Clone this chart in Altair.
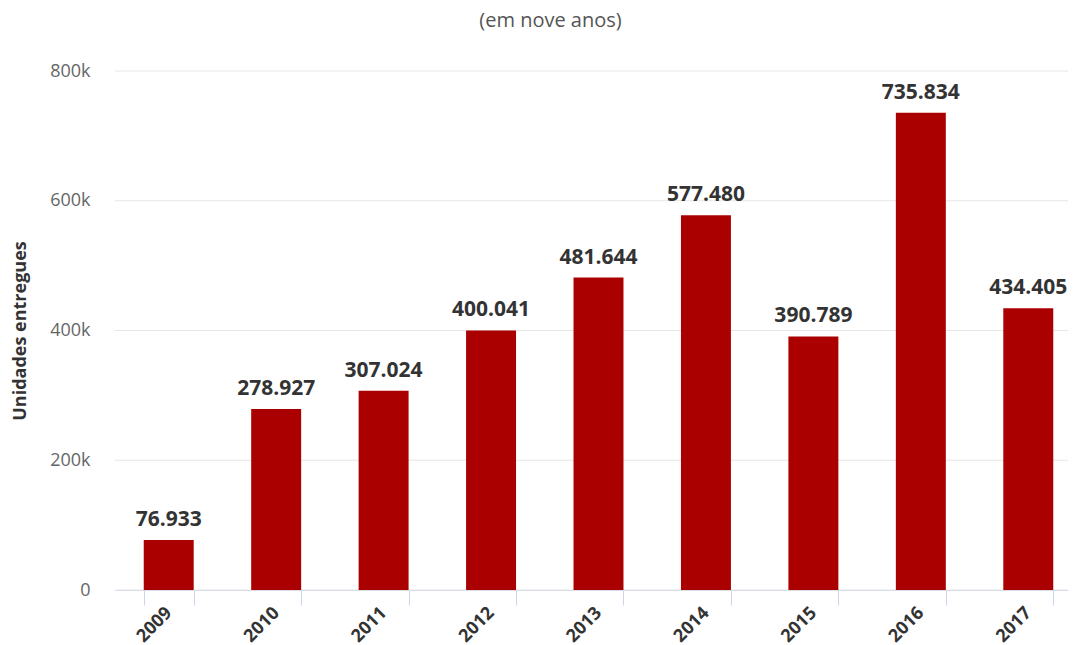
import altair as alt
import pandas as pd

years = ["2009", "2010", "2011", "2012", "2013", "2014", "2015", "2016", "2017"]
units = [76933, 278927, 307024, 400041, 481644, 577480, 390789, 735834, 434405]
y_ticks = [0, 200000, 400000, 600000, 800000]

df = pd.DataFrame({"ano": years, "unidades": units})
df["rotulo"] = [f"{v:,}".replace(",", ".") for v in units]
grid_df = pd.DataFrame({"v": y_ticks})

FONT = "Open Sans"
W, H = 953, 519
XR = 967

x_scale = alt.Scale(paddingInner=0.535, paddingOuter=0.2675, range=[0, XR])
y_scale = alt.Scale(domain=[0, 800000], nice=False)

y_axis = alt.Axis(values=y_ticks, grid=False, domain=False, ticks=False,
                  labelExpr="datum.value == 0 ? '0' : format(datum.value / 1000, 'd') + 'k'",
                  labelPadding=25, labelColor="#666666", labelFontSize=18,
                  labelFont=FONT, title="Unidades entregues", titleFont=FONT,
                  titleFontSize=18, titleFontWeight="bold", titleColor="#333333",
                  titlePadding=20)
x_axis = alt.Axis(title=None, labelAngle=-45, labelAlign="right", labelBaseline="middle",
                  labelFont=FONT, labelFontSize=18, labelFontWeight="bold",
                  labelColor="#333333", labelPadding=5, domainColor="#ccd6eb",
                  tickColor="#ccd6eb", tickSize=15, tickBand="extent")

grid = alt.Chart(grid_df).mark_rule(color="#e6e6e6", strokeWidth=1).encode(
    y=alt.Y("v:Q", scale=y_scale, axis=y_axis, title="Unidades entregues"),
    x=alt.value(0),
    x2=alt.value(XR),
)

bars = alt.Chart(df).mark_bar(color="#AA0000").encode(
    x=alt.X("ano:N", scale=x_scale, sort=years, axis=x_axis),
    y=alt.Y("unidades:Q", scale=y_scale, axis=y_axis, title="Unidades entregues"),
)

labels = alt.Chart(df).mark_text(font=FONT, fontSize=21, fontWeight="bold", color="#333333",
                                 baseline="alphabetic", dy=-14).encode(
    x=alt.X("ano:N", scale=x_scale, sort=years, axis=x_axis),
    y=alt.Y("unidades:Q", scale=y_scale, axis=y_axis, title="Unidades entregues"),
    text="rotulo:N",
)

chart = alt.layer(grid, bars, labels).properties(
    width=W, height=H,
    autosize=alt.AutoSizeParams(type="none"),
    padding={"left": 107, "top": 63, "right": 0, "bottom": 62},
    title=alt.TitleParams("(em nove anos)", font=FONT, fontSize=20, fontWeight="normal",
                          color="#555555", anchor="middle", dx=-41, offset=31),
).configure_view(stroke=None)

chart.save("out.html", embed_options={"renderer": "svg", "actions": False})
